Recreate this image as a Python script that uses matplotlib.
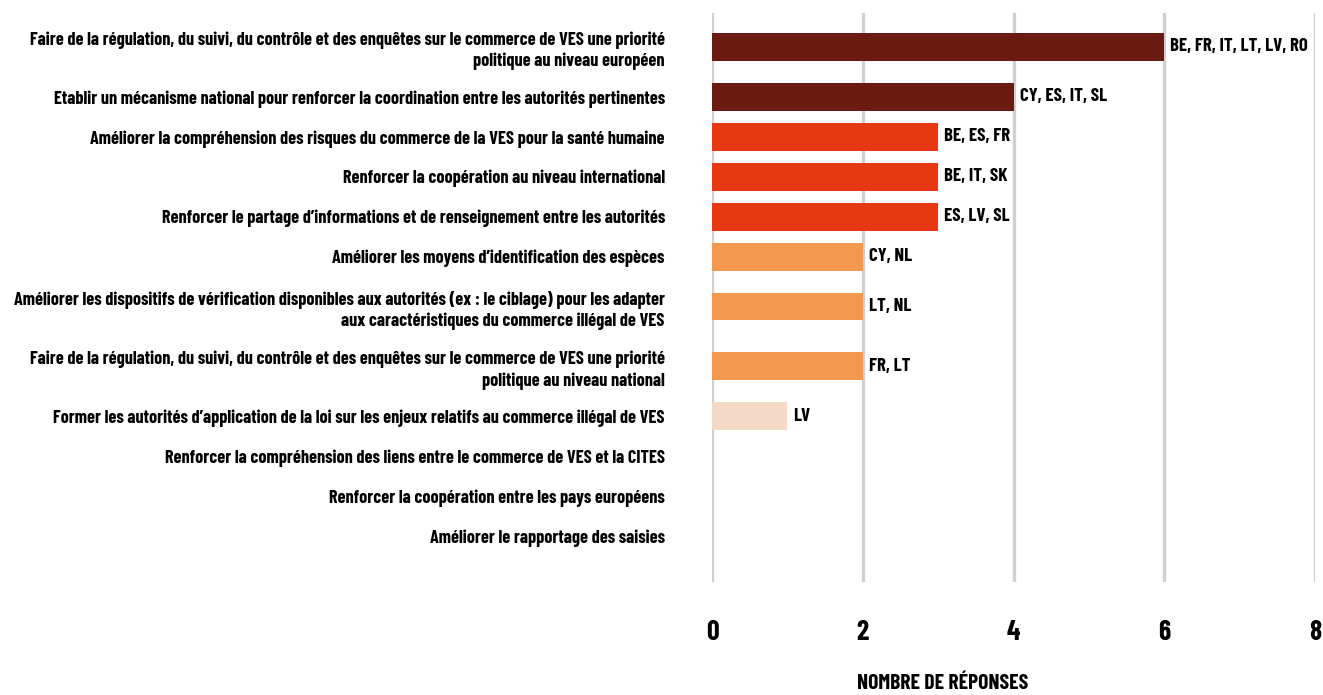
import numpy as np
import matplotlib.pyplot as plt

plt.rcParams['font.family'] = ['Barlow Condensed', 'DejaVu Sans']
plt.rcParams['font.weight'] = 'bold'

labels = [
    "Faire de la régulation, du suivi, du contrôle et des enquêtes sur le commerce de VES une priorité\npolitique au niveau européen",
    "Etablir un mécanisme national pour renforcer la coordination entre les autorités pertinentes",
    "Améliorer la compréhension des risques du commerce de la VES pour la santé humaine",
    "Renforcer la coopération au niveau international",
    "Renforcer le partage d’informations et de renseignement entre les autorités",
    "Améliorer les moyens d’identification des espèces",
    "Améliorer les dispositifs de vérification disponibles aux autorités (ex : le ciblage) pour les adapter\naux caractéristiques du commerce illégal de VES",
    "Faire de la régulation, du suivi, du contrôle et des enquêtes sur le commerce de VES une priorité\npolitique au niveau national",
    "Former les autorités d’application de la loi sur les enjeux relatifs au commerce illégal de VES",
    "Renforcer la compréhension des liens entre le commerce de VES et la CITES",
    "Renforcer la coopération entre les pays européens",
    "Améliorer le rapportage des saisies",
]
values = [6, 4, 3, 3, 3, 2, 2, 2, 1, 0, 0, 0]
countries = ["BE, FR, IT, LT, LV, RO", "CY, ES, IT, SL", "BE, ES, FR", "BE, IT, SK",
             "ES, LV, SL", "CY, NL", "LT, NL", "FR, LT", "LV", "", "", ""]

colors = {6: '#6B1A12', 4: '#6B1A12', 3: '#E63812', 2: '#F2984F', 1: '#F5D9C7', 0: '#FFFFFF'}

# positions: extra space around two-line labels
nlines = [l.count("\n") + 1 for l in labels]
pos = [0.0]
for a, b in zip(nlines[:-1], nlines[1:]):
    pos.append(pos[-1] + 1 + 0.25 * (a - 1) + 0.25 * (b - 1))
pos = np.array(pos)

fig = plt.figure(figsize=(13.23, 6.95), dpi=100)
ax = fig.add_axes([712 / 1323, 1 - 582 / 695, (1315 - 712) / 1323, (582 - 13) / 695])

ax.barh(pos, values, height=0.7, color=[colors[v] for v in values], zorder=3)
for p, v, c in zip(pos, values, countries):
    if c:
        ax.text(v + 0.08, p, c, va='center', ha='left', fontsize=13.5, fontweight='bold', color='black')

ax.set_xlim(0, 8)
ax.set_ylim(pos[-1] + 1.15, -0.85)
ax.set_xticks([0, 2, 4, 6, 8])
ax.set_yticks(pos)
ax.set_yticklabels(labels, fontsize=13.1, fontweight='bold', ha='right', linespacing=1.3)
ax.tick_params(axis='y', length=0, pad=34)
ax.tick_params(axis='x', length=0, pad=27, labelsize=20)
for t in ax.get_xticklabels():
    t.set_fontweight('bold')

ax.grid(axis='x', color='#D0D0D0', linewidth=2.4, zorder=0)
for s in ax.spines.values():
    s.set_visible(False)

ax.set_xlabel("NOMBRE DE RÉPONSES", fontsize=15.5, fontweight='bold', va='center')
ax.xaxis.set_label_coords(0.383, -0.178)

fig.savefig("out.png", dpi=100)
